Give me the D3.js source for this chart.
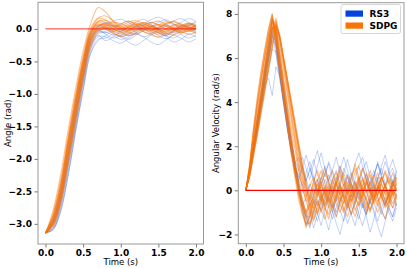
<!DOCTYPE html>
<html><head><meta charset="utf-8">
<script src="https://cdn.jsdelivr.net/npm/d3@7"></script>
<style>
html,body{margin:0;padding:0;background:#fff;}
svg{display:block;font-family:"DejaVu Sans",sans-serif;}
</style></head><body>
<svg id="c" width="407" height="268"></svg>
<script>
// ---------------- data ----------------
const seriesNames = ["RS3", "SDPG"];
const seriesColors = ["#0343df", "#f97306"];
const xTicks = [0, 0.5, 1.0, 1.5, 2.0];
const angleTicks = [-3.0, -2.5, -2.0, -1.5, -1.0, -0.5, 0.0];
const velTicks = [-2, 0, 2, 4, 6, 8];
const targetAngle = 0;
const targetVel = 0;

// time grid of angle samples (s)
const angleTime = [0,0.1,0.2,0.3,0.4,0.5,0.6,0.7,0.8,0.9,1.0,1.1,1.2,1.3,1.4,1.5,1.6,1.7,1.8,1.9,2.0];
// time grid of velocity samples (s)
const velTime = [0,0.05,0.1,0.15,0.2,0.25,0.3,0.35,0.4,0.45,0.5,0.55,0.6,0.65,0.7,0.75,0.8,0.85,0.9,0.95,1.0,
  1.05,1.1,1.15,1.2,1.25,1.3,1.35,1.4,1.45,1.5,1.55,1.6,1.65,1.7,1.75,1.8,1.85,1.9,1.95,2.0];

// RS3 angle trajectories (rad)
const angleRS3 = [
 [-3.14,-3.03,-2.67,-2.06,-1.4,-0.76,-0.24,-0.06,-0.05,-0.1,-0.16,-0.12,-0.05,0.02,-0.03,-0.1,-0.15,-0.09,-0.02,0.03,-0.02],
 [-3.14,-3.08,-2.77,-2.2,-1.52,-0.88,-0.32,-0.12,-0.12,-0.18,-0.22,-0.15,-0.08,-0.12,-0.2,-0.24,-0.17,-0.1,-0.14,-0.2,-0.15],
 [-3.14,-2.95,-2.52,-1.85,-1.2,-0.58,-0.12,0.04,0.08,0.12,0.15,0.1,0.04,0.08,0.14,0.18,0.13,0.06,0.1,0.16,0.12],
 [-3.14,-3.0,-2.62,-1.99,-1.33,-0.7,-0.2,-0.03,0.0,0.05,0.0,-0.07,-0.03,0.05,0.1,0.06,-0.01,-0.06,0.0,0.08,0.05],
 [-3.14,-3.09,-2.81,-2.26,-1.58,-0.94,-0.37,-0.16,-0.14,-0.08,-0.12,-0.2,-0.25,-0.18,-0.1,-0.05,-0.12,-0.2,-0.16,-0.08,-0.12],
 [-3.14,-2.98,-2.57,-1.92,-1.27,-0.64,-0.16,0.02,0.1,0.06,-0.02,0.03,0.1,0.15,0.08,0.0,0.05,0.12,0.16,0.1,0.04],
 [-3.14,-3.06,-2.72,-2.13,-1.46,-0.82,-0.28,-0.08,-0.04,0.02,-0.04,-0.1,-0.06,0.02,0.06,0.0,-0.08,-0.04,0.04,0.0,-0.06],
 [-3.14,-2.92,-2.46,-1.78,-1.14,-0.53,-0.09,0.04,0.02,-0.05,-0.12,-0.08,0.0,0.06,0.02,-0.06,-0.1,-0.03,0.05,0.09,0.02],
 [-3.14,-3.03,-2.67,-2.06,-1.4,-0.76,-0.25,-0.1,-0.18,-0.12,-0.04,0.02,-0.05,-0.12,-0.08,0.0,0.06,0.0,-0.08,-0.14,-0.1],
 [-3.14,-3.0,-2.62,-1.99,-1.33,-0.7,-0.2,-0.03,-0.06,0.0,0.07,0.12,0.06,-0.02,0.03,0.1,0.14,0.08,0.0,0.05,0.12],
 [-3.14,-3.09,-2.81,-2.26,-1.58,-0.94,-0.38,-0.18,-0.1,-0.04,-0.09,-0.16,-0.1,-0.02,0.04,-0.02,-0.1,-0.14,-0.07,0.0,-0.04],
 [-3.14,-2.95,-2.52,-1.85,-1.2,-0.58,-0.13,-0.02,-0.08,-0.14,-0.1,-0.03,0.04,0.0,-0.07,-0.13,-0.09,-0.02,0.05,0.02,-0.05]
];
// SDPG angle trajectories (rad)
const angleSDPG = [
 [-3.14,-2.84,-2.33,-1.65,-1.0,-0.42,0.01,0.17,0.2,0.12,0.05,0.0,0.04,0.1,0.05,-0.03,0.0,0.06,0.03,-0.02,0.01],
 [-3.14,-2.95,-2.52,-1.85,-1.2,-0.58,-0.1,0.06,0.05,0.0,-0.04,0.02,0.07,0.04,-0.02,-0.05,0.0,0.05,0.08,0.03,0.0],
 [-3.14,-3.03,-2.67,-2.06,-1.4,-0.76,-0.24,-0.02,0.04,0.06,0.02,-0.05,-0.08,-0.03,0.03,0.07,0.04,-0.02,-0.06,-0.02,0.03],
 [-3.14,-2.88,-2.4,-1.72,-1.07,-0.48,-0.03,0.12,0.1,0.04,0.08,0.12,0.07,0.0,-0.03,0.02,0.08,0.11,0.06,0.02,0.05],
 [-3.14,-2.98,-2.57,-1.92,-1.27,-0.65,-0.16,0.02,0.0,-0.06,-0.1,-0.05,0.01,-0.04,-0.09,-0.12,-0.06,0.0,-0.04,-0.08,-0.05],
 [-3.14,-2.8,-2.25,-1.56,-0.92,-0.34,0.08,0.33,0.26,0.12,0.03,0.07,0.1,0.04,-0.02,0.02,0.06,0.02,-0.03,0.0,0.04],
 [-3.14,-3.0,-2.62,-2.0,-1.34,-0.71,-0.2,0.0,0.05,0.1,0.08,0.03,-0.02,0.02,0.09,0.12,0.07,0.01,0.04,0.09,0.06],
 [-3.14,-2.92,-2.47,-1.79,-1.13,-0.53,-0.07,0.08,0.03,-0.03,0.0,0.05,0.02,-0.04,-0.07,-0.02,0.04,0.0,-0.05,-0.03,0.02],
 [-3.14,-3.06,-2.72,-2.12,-1.47,-0.82,-0.29,-0.05,0.02,0.0,-0.05,-0.1,-0.07,0.0,0.04,0.0,-0.06,-0.09,-0.04,0.02,-0.01],
 [-3.14,-2.95,-2.52,-1.85,-1.2,-0.58,-0.09,0.12,0.13,0.08,0.02,-0.03,0.01,0.06,0.1,0.06,0.0,-0.02,0.03,0.07,0.04],
 [-3.14,-2.88,-2.4,-1.72,-1.07,-0.48,-0.04,0.06,0.0,-0.07,-0.12,-0.08,-0.02,0.03,0.0,-0.06,-0.1,-0.05,0.01,-0.02,-0.07],
 [-3.14,-2.98,-2.57,-1.92,-1.27,-0.65,-0.15,0.04,0.07,0.03,0.05,0.1,0.13,0.08,0.03,0.06,0.11,0.08,0.02,0.05,0.1],
 [-3.14,-2.98,-2.57,-1.92,-1.27,-0.64,-0.14,0.05,0.09,0.04,-0.02,0.01,0.06,0.1,0.06,0.0,-0.04,0.01,0.06,0.04,-0.01],
 [-3.14,-2.92,-2.46,-1.78,-1.14,-0.53,-0.06,0.1,0.07,0.0,-0.05,-0.02,0.03,0.0,-0.05,-0.08,-0.03,0.03,0.0,-0.04,0.0],
 [-3.14,-3.0,-2.62,-1.99,-1.33,-0.7,-0.19,0.0,0.02,-0.03,-0.07,-0.02,0.04,0.08,0.03,-0.03,-0.07,-0.03,0.02,0.06,0.02],
 [-3.14,-2.88,-2.4,-1.72,-1.07,-0.48,-0.03,0.16,0.14,0.05,0.0,0.04,0.08,0.05,0.0,0.03,0.08,0.12,0.07,0.02,0.06]
];
// RS3 angular velocity trajectories (rad/s)
const velRS3 = [
 [0,0.8,1.9,3.0,4.1,5.1,6.2,7.2,6.5,5.3,4.1,2.9,1.8,1.0,0.6,1.1,0.5,0.9,1.4,0.7,0.2,0.8,1.2,0.5,-0.1,0.4,1.0,0.6,0.0,0.5,1.1,1.5,0.8,0.2,0.7,1.2,0.6,0.1,0.7,1.0,0.4],
 [0,0.7,1.8,2.8,3.9,4.9,5.9,6.9,6.8,5.6,4.4,3.2,2.0,0.9,0.0,-0.8,-1.5,-1.0,-1.7,-1.1,-0.5,-1.2,-1.8,-1.0,-0.4,-0.9,-1.4,-0.7,-0.2,-0.8,-1.3,-0.6,-1.2,-1.9,-1.3,-0.6,-1.1,-0.5,-1.0,-1.4,-0.8],
 [0,0.9,2.0,3.1,4.2,5.3,6.4,7.4,6.6,5.3,4.0,2.8,1.7,1.2,1.5,0.9,0.4,1.0,0.5,-0.1,0.6,1.1,0.4,0.9,1.5,0.8,0.2,0.7,0.3,-0.3,0.3,0.9,1.3,0.6,0.0,0.5,1.1,1.6,0.9,0.3,0.8],
 [0,0.8,1.9,2.9,4.0,5.0,6.0,7.0,6.9,5.7,4.6,3.4,2.3,1.2,0.3,-0.6,-1.2,-1.7,-1.0,-0.4,-0.9,-0.3,0.2,-0.4,-1.0,-0.5,0.1,-0.5,-1.1,-1.6,-0.9,-0.3,-0.8,-0.2,0.3,-0.3,-0.9,-1.3,-0.6,-0.1,-0.7],
 [0,0.8,1.9,3.0,4.1,5.2,6.3,7.3,7.0,5.7,4.5,3.3,2.1,1.1,0.7,0.2,0.8,1.3,0.6,0.0,-0.5,0.1,0.7,0.2,-0.4,0.2,0.8,1.4,0.7,0.1,-0.4,0.2,0.7,0.1,-0.5,0.0,0.6,0.2,-0.3,0.3,0.9],
 [0,0.9,2.1,3.2,4.3,5.4,6.6,7.7,6.7,5.4,4.1,2.9,1.8,0.8,0.0,-0.7,-0.3,0.3,-0.2,-0.7,-0.1,0.5,0.0,-0.6,-1.2,-0.6,0.0,0.6,0.1,-0.5,0.1,0.6,0.0,-0.6,-0.1,0.5,1.0,0.3,-0.3,-0.8,-0.2],
 [0,0.6,1.6,2.6,3.6,4.6,5.5,6.4,6.3,5.2,4.1,3.0,1.9,1.0,0.4,1.0,1.6,1.0,0.4,1.1,1.7,1.0,0.4,-0.1,0.5,1.1,0.6,0.0,0.6,1.2,1.7,1.1,0.5,0.0,0.6,1.3,0.7,0.2,0.9,1.4,0.8],
 [0,0.9,2.0,3.1,4.2,5.3,6.3,7.4,7.2,5.9,4.6,3.4,2.2,1.1,0.1,-0.8,-1.6,-1.1,-0.4,-1.0,-1.6,-0.9,-0.3,-0.9,-1.5,-2.0,-1.3,-0.6,-1.1,-0.5,0.0,-0.6,-1.1,-0.5,-1.0,-1.6,-2.1,-1.4,-0.8,-1.2,-0.6],
 [0,0.8,1.8,2.9,3.9,5.0,6.0,7.1,6.2,5.0,3.9,2.8,1.9,1.1,0.5,-0.1,0.5,0.0,-0.6,0.0,0.6,0.1,-0.5,-1.0,-0.4,0.2,-0.3,-0.8,-0.2,0.4,-0.1,-0.7,-1.1,-0.5,0.1,0.6,0.0,-0.6,-0.1,0.4,-0.2],
 [0,0.9,2.1,3.3,4.4,5.5,6.7,7.8,7.3,6.0,4.7,3.5,2.3,1.2,0.2,-0.6,-1.2,-0.6,0.0,0.5,-0.1,-0.7,-0.2,0.4,0.9,0.3,-0.3,0.2,0.8,0.3,-0.3,-0.8,-0.2,0.4,0.9,0.4,-0.2,-0.7,-0.1,0.5,0.1],
 [0,0.8,1.8,2.8,3.8,4.8,5.1,4.3,5.6,5.2,4.2,3.2,2.2,1.4,0.9,1.5,1.0,0.5,1.2,1.8,1.1,0.6,1.3,0.8,0.2,0.9,1.5,0.9,0.3,-0.2,0.4,1.0,0.5,-0.1,0.6,1.2,0.7,1.3,0.8,0.2,0.7],
 [0,0.7,1.7,2.7,3.7,4.7,5.8,6.8,6.6,5.5,4.4,3.3,2.3,1.3,0.4,-0.4,-1.0,-1.5,-0.9,-1.4,-0.8,-0.2,-0.7,-1.3,-0.8,-0.3,-0.9,-1.5,-1.0,-0.5,-1.1,-1.6,-1.0,-0.4,-0.9,-1.4,-0.8,-0.3,-0.8,-1.2,-0.5]
];
// SDPG angular velocity trajectories (rad/s)
const velSDPG = [
 [0,1.1,2.6,3.9,5.0,6.0,7.0,7.8,7.0,5.7,4.4,3.2,2.0,0.9,0.0,-0.7,-1.2,-1.2,-0.8,-0.3,0.2,-0.1,-0.5,0.1,0.4,-0.2,-0.6,-0.1,0.3,0.0,-0.4,0.2,0.5,-0.1,-0.3,0.2,0.0,-0.5,-0.2,0.3,0.1],
 [0,0.8,1.9,3.0,4.1,5.2,6.3,7.3,7.7,6.9,5.9,4.9,3.9,2.9,1.9,1.0,0.2,-0.4,0.2,0.5,-0.1,-0.6,-0.2,0.3,0.6,0.1,-0.4,-0.7,-0.2,0.3,0.1,-0.3,0.0,0.4,-0.2,-0.6,-0.1,0.2,0.5,0.0,-0.3],
 [0,1.2,2.8,4.2,5.4,6.4,7.3,8.0,6.8,5.4,4.1,2.9,1.7,0.6,-0.4,-1.1,-1.5,-1.5,-0.9,-0.5,-1.0,-0.4,0.1,-0.6,-1.2,-0.5,0.0,-0.5,-1.1,-0.6,0.0,-0.4,-1.0,-0.4,0.2,-0.3,-0.9,-1.3,-0.6,-0.1,-0.7],
 [0,0.6,1.5,2.4,3.4,4.4,5.4,6.4,7.4,7.1,6.1,5.1,4.0,2.9,1.8,0.8,0.0,-0.7,-0.3,0.4,0.9,0.3,-0.2,0.5,0.8,0.2,-0.4,0.1,0.6,1.0,0.4,-0.1,0.3,0.7,0.2,-0.3,0.4,0.8,0.3,-0.2,0.4],
 [0,0.9,2.1,3.2,4.3,5.5,6.6,7.7,7.5,6.2,5.0,3.8,2.6,1.4,0.4,-0.4,-1.0,-0.6,-1.3,-0.7,-0.2,-0.8,-1.1,-0.5,0.0,-0.6,-0.9,-0.3,-0.7,-1.2,-0.6,-0.1,-0.5,-0.9,-0.4,0.1,-0.3,-0.8,-0.5,0.0,-0.4],
 [0,0.7,1.7,2.7,3.8,4.8,5.9,6.9,7.6,6.8,5.7,4.6,3.5,2.4,1.3,0.4,-0.3,0.2,0.6,0.0,-0.5,0.0,0.5,0.9,0.3,-0.2,0.2,0.7,0.2,-0.3,-0.7,-0.2,0.4,0.0,-0.5,0.1,0.6,0.2,-0.3,0.2,0.6],
 [0,1.1,2.7,4.0,5.2,6.3,7.3,8.0,7.1,5.8,4.5,3.3,2.1,0.9,-0.1,-0.9,-1.6,-1.2,-0.5,-1.0,-0.4,0.1,-0.3,-0.8,-0.2,0.3,-0.2,-0.6,0.0,0.4,-0.1,-0.5,-0.9,-0.4,0.0,-0.5,-0.2,0.3,-0.2,-0.6,-0.2],
 [0,0.8,2.0,3.1,4.2,5.3,6.3,7.4,7.4,6.3,5.1,4.0,2.9,1.9,0.9,0.1,-0.5,-1.0,-0.4,0.1,-0.4,-0.9,-0.3,0.2,-0.2,-0.7,-1.0,-0.5,0.0,-0.4,0.1,0.5,0.0,-0.5,-0.1,0.4,0.0,-0.4,-0.8,-0.3,0.1],
 [0,1.0,2.4,3.7,4.9,6.0,7.0,7.7,6.6,5.3,4.1,3.0,1.9,0.9,0.1,-0.6,-1.0,-0.3,0.4,-0.2,0.5,1.0,0.4,-0.2,0.4,1.1,0.5,-0.1,0.5,1.2,0.6,0.0,0.4,0.9,0.3,-0.2,0.4,0.9,0.3,0.8,0.2],
 [0,0.8,1.9,3.0,4.1,5.2,6.3,7.3,7.8,7.0,6.0,5.0,4.0,3.0,2.0,1.0,0.1,-0.6,-0.8,-1.1,-0.5,0.0,-0.5,-0.1,0.4,-0.1,-0.6,-0.2,0.2,-0.3,-0.7,-0.2,0.3,-0.1,-0.6,-0.2,0.3,-0.1,-0.5,0.0,-0.2],
 [0,0.9,2.2,3.3,4.4,5.6,6.7,7.8,7.0,5.8,4.5,3.3,2.1,1.0,0.1,-0.7,-1.3,-0.9,-0.2,0.3,-0.3,-0.7,0.0,0.5,0.0,-0.5,-0.1,0.4,-0.2,-0.6,-0.1,0.3,0.8,0.2,-0.3,0.2,-0.3,-0.7,-0.1,0.4,0.0],
 [0,0.6,1.6,2.6,3.6,4.6,5.6,6.6,7.3,6.9,6.0,5.1,4.2,3.2,2.2,1.2,0.3,-0.5,0.1,-0.3,0.2,-0.2,0.3,0.0,-0.5,-0.1,0.3,-0.2,-0.5,0.0,0.4,0.0,-0.4,0.1,-0.3,-0.7,-0.2,0.2,-0.2,0.3,0.0],
 [0,1.0,2.3,3.5,4.6,5.7,6.8,7.6,7.3,6.1,4.9,3.7,2.5,1.3,0.3,-0.5,-1.1,-0.7,-0.2,0.3,-0.2,-0.8,-1.3,-0.7,-0.2,0.2,-0.3,-0.9,-0.4,0.1,0.6,0.1,-0.4,-0.9,-0.3,0.2,-0.2,-0.7,-0.2,0.4,0.0],
 [0,0.7,1.6,2.5,3.5,4.5,5.5,6.5,7.5,7.0,5.9,4.8,3.7,2.6,1.6,0.6,-0.2,-0.9,-1.4,-0.8,-0.3,0.2,-0.3,-0.8,-0.3,0.3,0.8,0.2,-0.3,0.1,0.6,0.0,-0.5,-1.0,-0.4,0.1,0.6,0.1,-0.4,0.1,0.5],
 [0,1.1,2.5,3.8,5.0,6.1,7.1,7.9,6.9,5.6,4.3,3.1,1.9,0.8,-0.2,-1.0,-1.7,-1.2,-0.6,-0.1,0.4,-0.1,-0.6,-0.2,0.3,0.7,0.2,-0.2,0.3,0.8,1.1,0.5,-0.1,0.3,0.7,0.2,-0.3,0.2,0.6,0.1,-0.3],
 [0,0.8,1.9,3.0,4.0,5.1,6.2,7.2,7.5,6.6,5.5,4.4,3.3,2.2,1.1,0.2,-0.5,-0.2,0.4,0.9,0.3,-0.3,-0.8,-0.3,0.2,-0.3,-0.8,-1.2,-0.6,-0.1,0.3,-0.2,-0.7,-0.2,0.3,0.8,0.3,-0.2,-0.6,-0.1,0.3],
 [0,0.9,2.0,3.1,4.2,5.3,6.4,7.5,7.1,5.9,4.7,3.5,2.3,1.2,0.2,-0.6,-1.3,-1.6,-1.0,-0.5,-0.9,-1.3,-0.7,-0.2,-0.6,-1.0,-0.5,0.0,-0.4,-0.9,-0.5,0.0,0.4,-0.1,-0.6,-1.0,-0.5,0.0,-0.4,-0.8,-0.3],
 [0,0.7,1.7,2.7,3.8,4.9,5.9,7.0,7.6,6.9,6.0,5.0,4.0,3.1,2.1,1.2,0.4,-0.3,-0.8,-0.2,0.3,0.8,0.3,-0.2,0.3,0.9,0.4,-0.1,-0.5,0.0,0.5,1.0,0.5,0.0,-0.4,0.1,0.6,0.2,-0.3,0.2,0.6]
];

// ---------------- drawing ----------------
const svg = d3.select("#c");
const fmt1 = d3.format(".1f");

function panel(opts) {
  const x = d3.scaleLinear().domain([-0.1, 2.1]).range([opts.x0, opts.x1]);
  const y = d3.scaleLinear().domain(opts.yDomain).range([opts.y1, opts.y0]);
  const g = svg.append("g");
  const clipId = "clip" + opts.id;
  svg.append("clipPath").attr("id", clipId).append("rect")
    .attr("x", opts.x0).attr("y", opts.y0).attr("width", opts.x1 - opts.x0).attr("height", opts.y1 - opts.y0);
  const plot = g.append("g").attr("clip-path", `url(#${clipId})`);

  opts.groups.forEach((grp, gi) => {
    const line = d3.line()
      .x((d, i) => x(grp.time[i]))
      .y(d => y(d))
      .defined((d, i) => i < grp.time.length)
      .curve(opts.curve);
    plot.append("g").selectAll("path").data(grp.data).join("path")
      .attr("d", line)
      .attr("fill", "none")
      .attr("stroke", seriesColors[gi])
      .attr("stroke-opacity", grp.opacity)
      .attr("stroke-width", grp.width)
      .attr("stroke-linejoin", "round");
  });
  // reference line
  plot.append("path")
    .attr("d", d3.line()([[x(0), y(opts.target)], [x(2), y(opts.target)]]))
    .attr("stroke", "#ff0000").attr("stroke-opacity", opts.refOpacity).attr("stroke-width", 1.3).attr("fill", "none");

  // axes
  const ax = g.append("g").attr("transform", `translate(0,${opts.y1})`)
    .call(d3.axisBottom(x).tickValues(xTicks).tickFormat(fmt1).tickSize(3.5).tickPadding(2.5));
  const ay = g.append("g").attr("transform", `translate(${opts.x0},0)`)
    .call(d3.axisLeft(y).tickValues(opts.yTicks).tickFormat(opts.yFmt).tickSize(3.5).tickPadding(2.5));
  [ax, ay].forEach(a => {
    a.select(".domain").remove();
    a.selectAll(".tick line").attr("stroke", "#555").attr("stroke-width", 0.8);
    a.selectAll(".tick text").attr("font-family", "DejaVu Sans").attr("font-weight", "bold")
      .attr("font-size", 9).attr("fill", "#000");
  });
  // frame
  g.append("rect").attr("x", opts.x0).attr("y", opts.y0)
    .attr("width", opts.x1 - opts.x0).attr("height", opts.y1 - opts.y0)
    .attr("fill", "none").attr("stroke", "#999").attr("stroke-width", 1);
  // labels
  g.append("text").attr("x", (x(0) + x(2)) / 2).attr("y", 265)
    .attr("text-anchor", "middle").attr("font-size", 8.5).attr("fill", "#000").text("Time (s)");
  g.append("text").attr("transform", `translate(${opts.labelX},${(opts.y0 + opts.y1) / 2}) rotate(-90)`)
    .attr("text-anchor", "middle").attr("font-size", 8.5).attr("fill", "#000").text(opts.yLabel);
  return {x, y};
}

panel({
  id: "a", x0: 38, x1: 203.5, y0: 2.3, y1: 244,
  yDomain: [-3.31, 0.41], yTicks: angleTicks, yFmt: fmt1,
  yLabel: "Angle (rad)", labelX: 10.5, target: targetAngle, refOpacity: 0.65,
  curve: d3.curveCatmullRom.alpha(0.5),
  groups: [
    {time: angleTime, data: angleRS3, opacity: 0.3, width: 0.8},
    {time: angleTime, data: angleSDPG, opacity: 0.45, width: 1.1}
  ]
});

panel({
  id: "b", x0: 238.3, x1: 404, y0: 2.7, y1: 243.7,
  yDomain: [-2.42, 8.51], yTicks: velTicks, yFmt: d3.format("d"),
  yLabel: "Angular Velocity (rad/s)", labelX: 218.5, target: targetVel, refOpacity: 1,
  curve: d3.curveLinear,
  groups: [
    {time: velTime, data: velRS3, opacity: 0.3, width: 0.8},
    {time: velTime, data: velSDPG, opacity: 0.45, width: 1.1}
  ]
});

// legend
const lg = svg.append("g");
lg.append("rect").attr("x", 341).attr("y", 4.5).attr("width", 59.5).attr("height", 29)
  .attr("rx", 2).attr("fill", "#fff").attr("fill-opacity", 0.8).attr("stroke", "#ccc").attr("stroke-width", 0.8);
seriesNames.forEach((n, i) => {
  lg.append("rect").attr("x", 345.5).attr("y", 10.5 + i * 12).attr("width", 17.5).attr("height", 6.2)
    .attr("fill", seriesColors[i]);
  lg.append("text").attr("x", 369.5).attr("y", 17 + i * 12).attr("font-size", 9).attr("font-weight", "bold")
    .attr("fill", "#000").text(n);
});
</script>
</body></html>
